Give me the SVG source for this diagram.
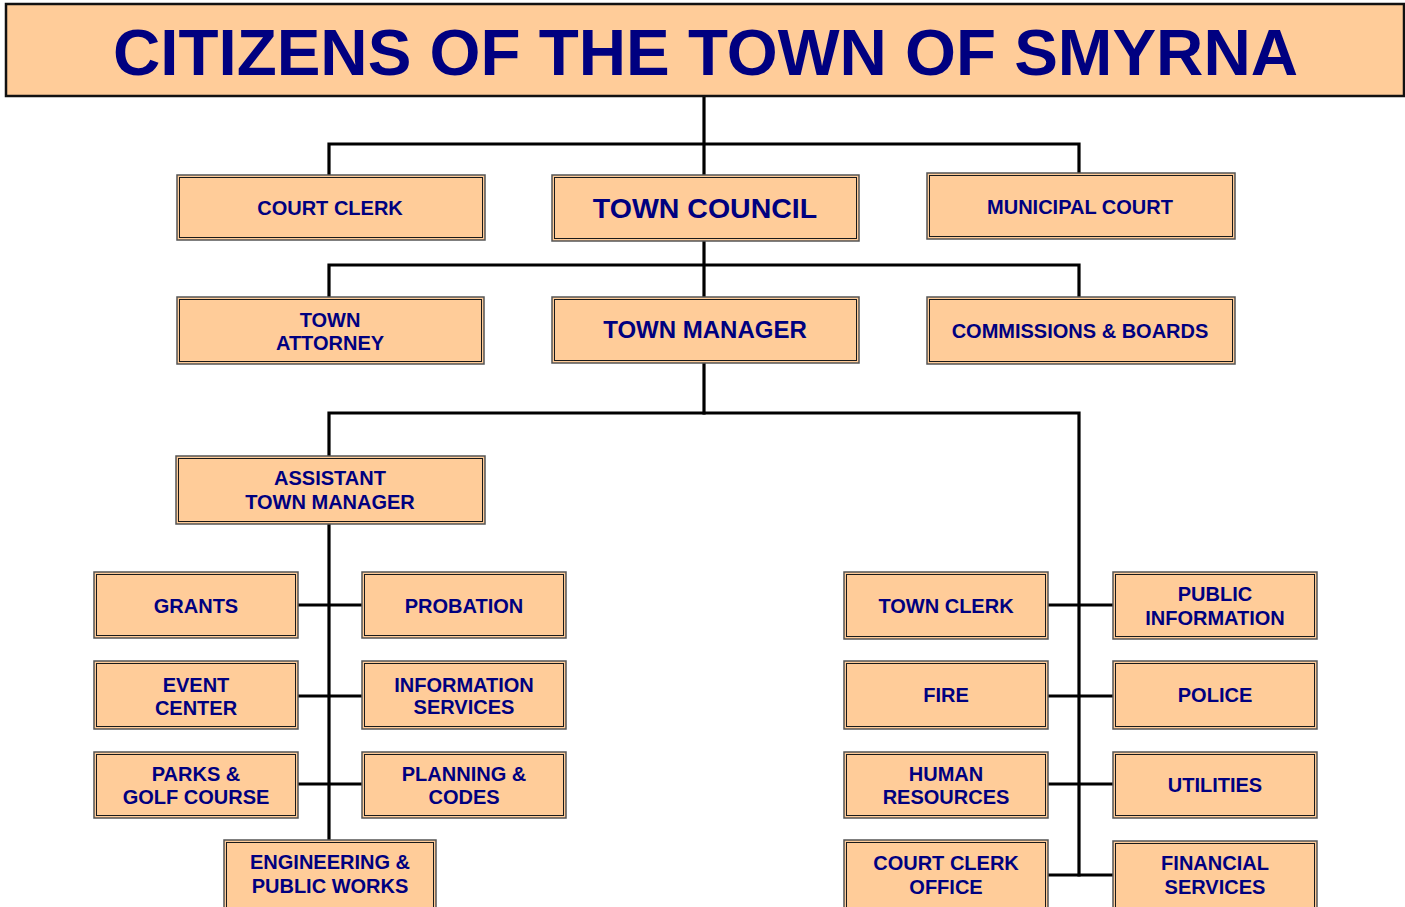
<svg xmlns="http://www.w3.org/2000/svg" width="1405" height="907" viewBox="0 0 1405 907">
  <style>
    .box { fill: #FFCC99; stroke: #555555; stroke-width: 1.5; }
    .inner { fill: none; stroke: #1a1a1a; stroke-width: 1; }
    .title-box { fill: #FFCC99; stroke: #111111; stroke-width: 2.5; }
    .wire { fill: none; stroke: #000000; stroke-width: 3.2; stroke-linecap: square; }
    text { font-family: "Liberation Sans", Arial, sans-serif; font-weight: bold; fill: #000080; text-anchor: middle; }
    .t20 { font-size: 20px; }
    .t24 { font-size: 24px; }
    .t28 { font-size: 28.5px; }
    .title { font-size: 65.5px; }
  </style>

  <!-- connectors -->
  <g id="connectors">
    <path class="wire" d="M704,96 V175"/>
    <path class="wire" d="M329,174 V144 H1079 V172"/>
    <path class="wire" d="M704,241 V297"/>
    <path class="wire" d="M329,297 V265 H1079 V297"/>
    <path class="wire" d="M704,363 V413"/>
    <path class="wire" d="M329,456 V413 H1079 V875"/>
    <path class="wire" d="M329,524 V840"/>
    <path class="wire" d="M298,605 H362"/>
    <path class="wire" d="M298,696 H362"/>
    <path class="wire" d="M298,784 H362"/>
    <path class="wire" d="M1048,605 H1113"/>
    <path class="wire" d="M1048,696 H1113"/>
    <path class="wire" d="M1048,784 H1113"/>
    <path class="wire" d="M1048,875 H1113"/>
  </g>

  <!-- title -->
  <g id="citizens">
    <rect class="title-box" x="6" y="4" width="1398" height="92"/>
    <text class="title" x="705.5" y="75">CITIZENS OF THE TOWN OF SMYRNA</text>
  </g>

  <!-- first tier -->
  <g id="court-clerk">
    <rect class="box" x="177" y="175" width="308" height="65"/>
    <rect class="inner" x="179.5" y="177.5" width="303" height="60"/>
    <text class="t20" x="330" y="215">COURT CLERK</text>
  </g>
  <g id="town-council">
    <rect class="box" x="552" y="175" width="307" height="66"/>
    <rect class="inner" x="554.5" y="177.5" width="302" height="61"/>
    <text class="t28" x="705" y="218">TOWN COUNCIL</text>
  </g>
  <g id="municipal-court">
    <rect class="box" x="927" y="173" width="308" height="66"/>
    <rect class="inner" x="929.5" y="175.5" width="303" height="61"/>
    <text class="t20" x="1080" y="214">MUNICIPAL COURT</text>
  </g>

  <!-- second tier -->
  <g id="town-attorney">
    <rect class="box" x="177" y="297" width="307" height="67"/>
    <rect class="inner" x="179.5" y="299.5" width="302" height="62"/>
    <text class="t20" x="330" y="326.5">TOWN</text>
    <text class="t20" x="330" y="350">ATTORNEY</text>
  </g>
  <g id="town-manager">
    <rect class="box" x="552" y="297" width="307" height="66"/>
    <rect class="inner" x="554.5" y="299.5" width="302" height="61"/>
    <text class="t24" x="705" y="338">TOWN MANAGER</text>
  </g>
  <g id="commissions-boards">
    <rect class="box" x="927" y="297" width="308" height="67"/>
    <rect class="inner" x="929.5" y="299.5" width="303" height="62"/>
    <text class="t20" x="1080" y="338">COMMISSIONS &amp; BOARDS</text>
  </g>

  <!-- assistant town manager -->
  <g id="assistant-town-manager">
    <rect class="box" x="176" y="456" width="309" height="68"/>
    <rect class="inner" x="178.5" y="458.5" width="304" height="63"/>
    <text class="t20" x="330" y="485">ASSISTANT</text>
    <text class="t20" x="330" y="509">TOWN MANAGER</text>
  </g>

  <!-- departments under the assistant town manager -->
  <g id="grants">
    <rect class="box" x="94" y="572" width="204" height="66"/>
    <rect class="inner" x="96.5" y="574.5" width="199" height="61"/>
    <text class="t20" x="196" y="613">GRANTS</text>
  </g>
  <g id="probation">
    <rect class="box" x="362" y="572" width="204" height="66"/>
    <rect class="inner" x="364.5" y="574.5" width="199" height="61"/>
    <text class="t20" x="464" y="613">PROBATION</text>
  </g>
  <g id="event-center">
    <rect class="box" x="94" y="661" width="204" height="68"/>
    <rect class="inner" x="96.5" y="663.5" width="199" height="63"/>
    <text class="t20" x="196" y="691.5">EVENT</text>
    <text class="t20" x="196" y="714.5">CENTER</text>
  </g>
  <g id="information-services">
    <rect class="box" x="362" y="661" width="204" height="68"/>
    <rect class="inner" x="364.5" y="663.5" width="199" height="63"/>
    <text class="t20" x="464" y="691.5">INFORMATION</text>
    <text class="t20" x="464" y="714">SERVICES</text>
  </g>
  <g id="parks-golf-course">
    <rect class="box" x="94" y="752" width="204" height="66"/>
    <rect class="inner" x="96.5" y="754.5" width="199" height="61"/>
    <text class="t20" x="196" y="780.5">PARKS &amp;</text>
    <text class="t20" x="196" y="804">GOLF COURSE</text>
  </g>
  <g id="planning-codes">
    <rect class="box" x="362" y="752" width="204" height="66"/>
    <rect class="inner" x="364.5" y="754.5" width="199" height="61"/>
    <text class="t20" x="464" y="780.5">PLANNING &amp;</text>
    <text class="t20" x="464" y="804">CODES</text>
  </g>
  <g id="engineering-public-works">
    <rect class="box" x="224" y="840" width="212" height="72"/>
    <rect class="inner" x="226.5" y="842.5" width="207" height="67"/>
    <text class="t20" x="330" y="869">ENGINEERING &amp;</text>
    <text class="t20" x="330" y="893">PUBLIC WORKS</text>
  </g>

  <!-- departments under the town manager -->
  <g id="town-clerk">
    <rect class="box" x="844" y="572" width="204" height="67"/>
    <rect class="inner" x="846.5" y="574.5" width="199" height="62"/>
    <text class="t20" x="946" y="613">TOWN CLERK</text>
  </g>
  <g id="public-information">
    <rect class="box" x="1113" y="572" width="204" height="67"/>
    <rect class="inner" x="1115.5" y="574.5" width="199" height="62"/>
    <text class="t20" x="1215" y="601">PUBLIC</text>
    <text class="t20" x="1215" y="625">INFORMATION</text>
  </g>
  <g id="fire">
    <rect class="box" x="844" y="661" width="204" height="68"/>
    <rect class="inner" x="846.5" y="663.5" width="199" height="63"/>
    <text class="t20" x="946" y="702">FIRE</text>
  </g>
  <g id="police">
    <rect class="box" x="1113" y="661" width="204" height="68"/>
    <rect class="inner" x="1115.5" y="663.5" width="199" height="63"/>
    <text class="t20" x="1215" y="702">POLICE</text>
  </g>
  <g id="human-resources">
    <rect class="box" x="844" y="752" width="204" height="66"/>
    <rect class="inner" x="846.5" y="754.5" width="199" height="61"/>
    <text class="t20" x="946" y="780.5">HUMAN</text>
    <text class="t20" x="946" y="804">RESOURCES</text>
  </g>
  <g id="utilities">
    <rect class="box" x="1113" y="752" width="204" height="66"/>
    <rect class="inner" x="1115.5" y="754.5" width="199" height="61"/>
    <text class="t20" x="1215" y="792">UTILITIES</text>
  </g>
  <g id="court-clerk-office">
    <rect class="box" x="844" y="840" width="204" height="72"/>
    <rect class="inner" x="846.5" y="842.5" width="199" height="67"/>
    <text class="t20" x="946" y="870">COURT CLERK</text>
    <text class="t20" x="946" y="894">OFFICE</text>
  </g>
  <g id="financial-services">
    <rect class="box" x="1113" y="841" width="204" height="71"/>
    <rect class="inner" x="1115.5" y="843.5" width="199" height="66"/>
    <text class="t20" x="1215" y="870">FINANCIAL</text>
    <text class="t20" x="1215" y="894">SERVICES</text>
  </g>
</svg>
